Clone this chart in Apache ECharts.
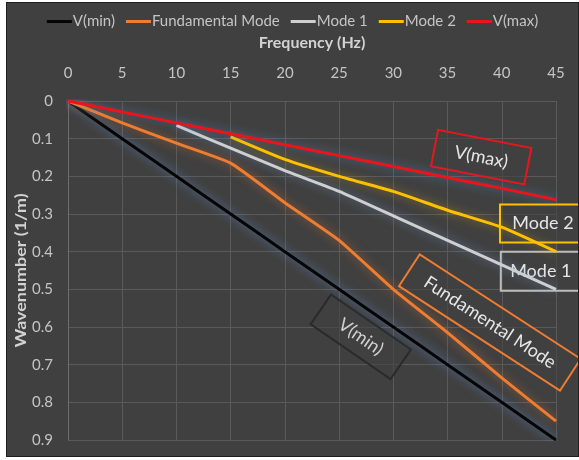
<!DOCTYPE html>
<html>
<head>
<meta charset="utf-8">
<script src="https://cdn.jsdelivr.net/npm/echarts@6/dist/echarts.min.js"></script>
<style>
  html, body { margin: 0; padding: 0; background: #ffffff; }
  #frame { position: absolute; left: 6px; top: 2px; width: 573px; height: 455px; background: #1e1e1e; }
  #chart { position: absolute; left: 1px; top: 1px; width: 571px; height: 453px; }
</style>
</head>
<body>
<div id="frame"><div id="chart"></div></div>
<script>
// Frequency samples (Hz) and wavenumber values (1/m) for each dispersion curve
const frequency = [0, 5, 10, 15, 20, 25, 30, 35, 40, 45];
const vMin        = [0, 0.1, 0.2, 0.3, 0.4, 0.5, 0.6, 0.7, 0.8, 0.9];
const fundamental = [0, 0.058, 0.112, 0.165, 0.27, 0.37, 0.5, 0.615, 0.735, 0.85];
const mode1       = [null, null, 0.065, 0.125, 0.185, 0.24, 0.305, 0.37, 0.435, 0.5];
const mode2       = [null, null, null, 0.095, 0.155, 0.2, 0.24, 0.29, 0.335, 0.4];
const vMax        = [0, 0.029, 0.058, 0.087, 0.116, 0.145, 0.174, 0.203, 0.232, 0.262];

const seriesNames = ['V(min)', 'Fundamental Mode', 'Mode 1', 'Mode 2', 'V(max)'];
const xTicks = { min: 0, max: 45, step: 5 };
const yTicks = { min: 0, max: 0.9, step: 0.1 };
const xTitle = 'Frequency (Hz)';
const yTitle = 'Wavenumber (1/m)';

const FONT = 'Lato';
const TEXT = '#c4c4c4';
const TITLE = '#d2d2d2';

function pairs(values) {
  return frequency.map((f, i) => [f, values[i]]).filter(p => p[1] !== null);
}

function lineSeries(name, values, color, glow) {
  return {
    name: name,
    type: 'line',
    data: pairs(values),
    showSymbol: false,
    symbol: 'none',
    smooth: 0.15,
    lineStyle: { color: color, width: 3, shadowColor: glow, shadowBlur: 10 },
    itemStyle: { color: color },
    emphasis: { disabled: true }
  };
}

const chart = echarts.init(document.getElementById('chart'), null, { renderer: 'canvas' });

chart.setOption({
  animation: false,
  backgroundColor: '#404040',
  textStyle: { fontFamily: FONT },
  legend: {
    top: 6,
    left: 'center',
    icon: 'rect',
    itemWidth: 25,
    itemHeight: 3,
    itemGap: 11,
    data: seriesNames,
    textStyle: { color: TEXT, fontSize: 15, fontFamily: FONT, padding: [0, 0, 0, -4] }
  },
  grid: { left: 61, right: 22, top: 98, bottom: 16, containLabel: false },
  xAxis: {
    type: 'value',
    position: 'top',
    min: xTicks.min, max: xTicks.max, interval: xTicks.step,
    name: xTitle,
    nameLocation: 'middle',
    nameGap: 50,
    nameTextStyle: { color: TITLE, fontSize: 16, fontWeight: 'bold', fontFamily: FONT },
    axisLine: { show: false },
    axisTick: { show: false },
    axisLabel: { color: TEXT, fontSize: 15, margin: 20, fontFamily: FONT },
    splitLine: { show: true, lineStyle: { color: '#5a5a5a', width: 1 } }
  },
  yAxis: {
    type: 'value',
    inverse: true,
    min: yTicks.min, max: yTicks.max, interval: yTicks.step,
    axisLine: { show: true, lineStyle: { color: '#6e6e6e', width: 1 } },
    axisTick: { show: false },
    axisLabel: {
      color: TEXT, fontSize: 15, margin: 15, fontFamily: FONT,
      formatter: v => (Math.round(v * 10) / 10).toString()
    },
    splitLine: { show: true, lineStyle: { color: '#5a5a5a', width: 1 } }
  },
  series: [
    lineSeries(seriesNames[0], vMin, '#050505', 'rgba(95,145,215,0.75)'),
    lineSeries(seriesNames[1], fundamental, '#ee7d31', 'rgba(238,125,49,0.55)'),
    lineSeries(seriesNames[2], mode1, '#cfcfcf', 'rgba(120,160,220,0.6)'),
    lineSeries(seriesNames[3], mode2, '#ffc000', 'rgba(255,192,0,0.45)'),
    lineSeries(seriesNames[4], vMax, '#e8161c', 'rgba(95,145,215,0.6)')
  ]
});

// Callout boxes, anchored in data space (frequency, wavenumber)
const callouts = [
  { text: 'V(max)', at: [38.1, 0.149], w: 95, h: 37, angle: 11, stroke: '#e8161c', color: '#e6e6e6' },
  { text: 'Mode 2', at: [43.8, 0.325], w: 86, h: 38, angle: 0, stroke: '#ffc000', color: '#e6e6e6' },
  { text: 'Mode 1', at: [43.6, 0.452], w: 80, h: 39, angle: 0, stroke: '#bdbdbd', color: '#e6e6e6' },
  { text: 'Fundamental Mode', at: [38.9, 0.588], w: 192, h: 38, angle: 33, stroke: '#ee7d31', color: '#e6e6e6' },
  { text: 'V(min)', at: [27.0, 0.626], w: 97, h: 36, angle: 34.5, stroke: '#2a2a2a', color: '#d0d0d0' }
];

const graphics = callouts.map(c => {
  const p = chart.convertToPixel({ gridIndex: 0 }, c.at);
  return {
    type: 'group',
    x: p[0],
    y: p[1],
    rotation: -c.angle * Math.PI / 180,
    z: 100,
    children: [
      {
        type: 'rect',
        shape: { x: -c.w / 2, y: -c.h / 2, width: c.w, height: c.h },
        style: { fill: 'rgba(64,64,64,0.55)', stroke: c.stroke, lineWidth: 2 }
      },
      {
        type: 'text',
        style: {
          text: c.text, x: 0, y: 0, align: 'center', verticalAlign: 'middle',
          fill: c.color, font: '18px ' + FONT
        }
      }
    ]
  };
});

// Vertical axis title, centred on the plot's vertical extent
const mid = chart.convertToPixel({ gridIndex: 0 }, [0, (yTicks.min + yTicks.max) / 2]);
graphics.push({
  type: 'text',
  x: 14,
  y: mid[1],
  rotation: Math.PI / 2,
  scaleX: 1.12,
  z: 50,
  style: {
    text: yTitle, x: 0, y: 0, align: 'center', verticalAlign: 'middle',
    fill: TITLE, font: 'bold 16px ' + FONT
  }
});

chart.setOption({ graphic: graphics });
</script>
</body>
</html>
